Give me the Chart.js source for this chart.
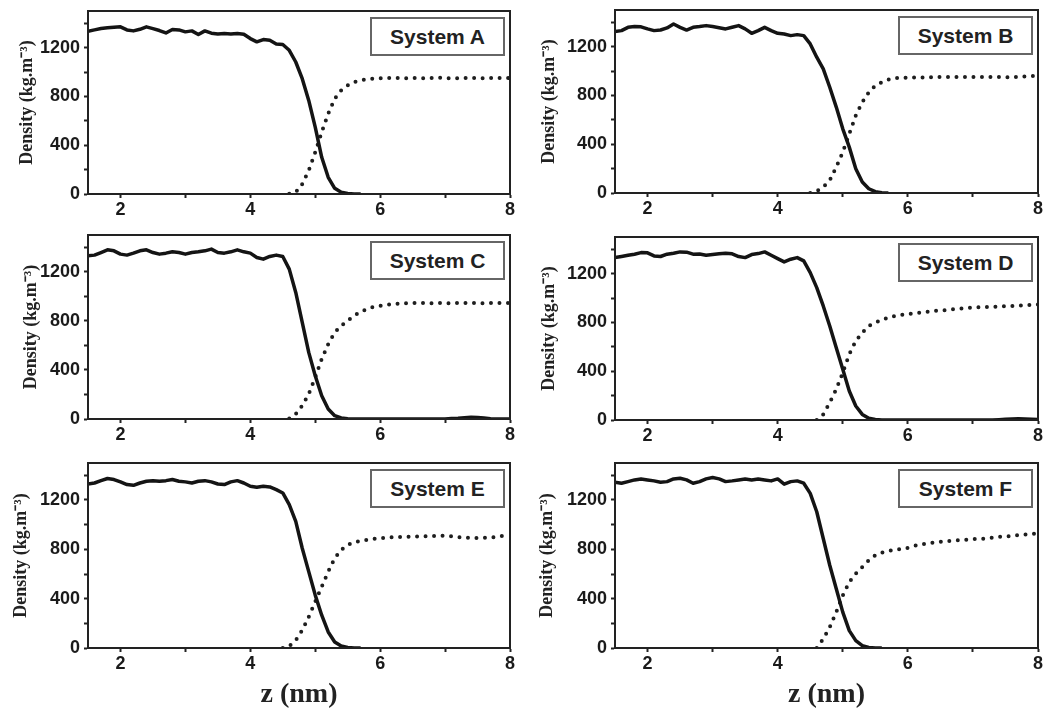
<!DOCTYPE html>
<html><head><meta charset="utf-8">
<script src="https://cdn.jsdelivr.net/npm/chart.js@4.4.0/dist/chart.umd.min.js"></script>
<style>
html,body{margin:0;padding:0;background:#fff;width:1045px;height:715px;overflow:hidden;position:relative}
canvas{position:absolute}
.box{position:absolute;box-sizing:border-box;border:2px solid #666;background:#fff;font:bold 21px "Liberation Sans",Arial,sans-serif;color:#222;display:flex;align-items:center;justify-content:center;white-space:nowrap}
</style></head><body>
<script>
// z positions (nm)
const zNm = [1.5,1.6,1.7,1.8,1.9,2.0,2.1,2.2,2.3,2.4,
             2.5,2.6,2.7,2.8,2.9,3.0,3.1,3.2,3.3,3.4,
             3.5,3.6,3.7,3.8,3.9,4.0,4.1,4.2,4.3,4.4,
             4.5,4.6,4.7,4.8,4.9,5.0,5.1,5.2,5.3,5.4,
             5.5,5.6,5.7,5.8,5.9,6.0,6.1,6.2,6.3,6.4,
             6.5,6.6,6.7,6.8,6.9,7.0,7.1,7.2,7.3,7.4,
             7.5,7.6,7.7,7.8,7.9,8.0];
const N = null;
// System A
const solidA = [1334,1345,1356,1362,1366,1370,1345,1337,1350,1370,
                1356,1340,1320,1348,1345,1329,1337,1307,1337,1318,
                1312,1315,1312,1316,1310,1274,1247,1266,1260,1230,
                1225,1178,1082,945,767,548,301,137,47,14,
                5,1,0,N,N,N,N,N,N,N,
                N,N,N,N,N,N,N,N,N,N,
                N,N,N,N,N,N];
const dottedA = [N,N,N,N,N,N,N,N,N,N,
                 N,N,N,N,N,N,N,N,N,N,
                 N,N,N,N,N,N,N,N,N,N,
                 N,2,14,82,192,342,507,658,781,850,
                 890,918,932,940,945,948,951,953,950,948,
                 952,950,949,951,953,950,948,950,952,951,
                 949,950,952,950,951,950];
// System B
const solidB = [1323,1331,1358,1364,1362,1345,1331,1336,1353,1385,
                1358,1336,1358,1364,1372,1364,1355,1345,1358,1372,
                1345,1309,1331,1358,1331,1309,1303,1290,1298,1290,
                1222,1113,1017,867,704,526,376,199,90,35,
                11,3,0,N,N,N,N,N,N,N,
                N,N,N,N,N,N,N,N,N,N,
                N,N,N,N,N,N];
const dottedB = [N,N,N,N,N,N,N,N,N,N,
                 N,N,N,N,N,N,N,N,N,N,
                 N,N,N,N,N,N,N,N,N,N,
                 0,16,49,104,213,335,485,635,744,826,
                 881,908,930,941,944,944,947,945,950,948,
                 952,950,953,949,951,952,950,953,951,950,
                 948,952,950,955,958,960];
// System C
const solidC = [1330,1336,1357,1379,1371,1344,1336,1352,1371,1379,
                1357,1344,1352,1363,1357,1344,1357,1363,1371,1385,
                1357,1352,1363,1379,1363,1352,1317,1303,1325,1336,
                1325,1222,1032,787,543,353,190,81,27,8,
                3,0,0,0,0,0,0,0,0,0,
                0,0,0,0,0,0,4,6,10,14,
                12,8,3,0,0,0];
const dottedC = [N,N,N,N,N,N,N,N,N,N,
                 N,N,N,N,N,N,N,N,N,N,
                 N,N,N,N,N,N,N,N,N,N,
                 N,5,41,109,204,339,489,611,706,760,
                 801,842,874,896,915,923,930,937,940,943,
                 945,948,945,944,946,945,944,946,945,947,
                 945,944,946,945,946,945];
// System D
const solidD = [1331,1340,1350,1359,1372,1370,1345,1340,1359,1367,
                1378,1376,1359,1360,1350,1356,1362,1367,1362,1340,
                1331,1356,1364,1378,1350,1323,1296,1318,1331,1304,
                1208,1085,935,771,593,416,238,115,46,14,
                5,0,0,0,0,0,0,0,0,0,
                0,0,0,0,0,0,0,0,0,3,
                6,8,10,8,6,5];
const dottedD = [N,N,N,N,N,N,N,N,N,N,
                 N,N,N,N,N,N,N,N,N,N,
                 N,N,N,N,N,N,N,N,N,N,
                 N,0,46,142,252,388,539,648,716,771,
                 798,820,839,853,861,869,875,880,887,894,
                 898,902,908,913,917,921,924,926,928,930,
                 933,935,938,940,943,946];
// System E
const solidE = [1330,1338,1357,1374,1366,1347,1325,1319,1338,1352,
                1357,1352,1357,1366,1352,1347,1338,1352,1357,1347,
                1330,1325,1347,1357,1338,1311,1303,1311,1306,1284,
                1257,1162,1026,809,619,429,266,130,49,16,
                5,0,0,N,N,N,N,N,N,N,
                N,N,N,N,N,N,N,N,N,N,
                N,N,N,N,N,N];
const dottedE = [N,N,N,N,N,N,N,N,N,N,
                 N,N,N,N,N,N,N,N,N,N,
                 N,N,N,N,N,N,N,N,N,N,
                 0,16,62,144,252,375,497,619,728,796,
                 836,858,869,877,885,891,895,899,900,902,
                 904,905,907,908,909,910,905,900,895,892,
                 891,893,896,900,910,923];
// System F
const solidF = [1344,1336,1349,1363,1371,1363,1355,1344,1349,1371,
                1376,1363,1336,1349,1371,1382,1371,1349,1355,1363,
                1371,1363,1371,1363,1355,1371,1328,1349,1355,1336,
                1254,1105,888,671,481,291,141,60,19,5,
                0,0,N,N,N,N,N,N,N,N,
                N,N,N,N,N,N,N,N,N,N,
                N,N,N,N,N,N];
const dottedF = [N,N,N,N,N,N,N,N,N,N,
                 N,N,N,N,N,N,N,N,N,N,
                 N,N,N,N,N,N,N,N,N,N,
                 N,0,73,168,291,426,535,603,657,711,
                 752,774,785,798,801,812,828,839,847,855,
                 861,866,870,874,878,882,885,888,895,901,
                 905,909,915,920,925,929];

const systemNames = ['System A','System B','System C','System D','System E','System F'];
const xTickLabels = [2,4,6,8];
const yTickLabels = [0,400,800,1200];
const yTitle = 'Density (kg.m\u207B\u00B3)';
const xTitle = 'z (nm)';

// layout (plot-area rectangles in page pixels)
const layoutPanels = [
  {L:88,  T:11,  R:510,  B:194, tp:9,  xt:false},
  {L:615, T:10,  R:1038, B:193, tp:4,  xt:false},
  {L:88,  T:235, R:510,  B:419, tp:13, xt:false},
  {L:615, T:237, R:1038, B:420, tp:4,  xt:false},
  {L:88,  T:463, R:510,  B:648, tp:3,  xt:true},
  {L:615, T:463, R:1038, B:648, tp:2,  xt:true}
];
const seriesSolid = [solidA, solidB, solidC, solidD, solidE, solidF];
const seriesDotted = [dottedA, dottedB, dottedC, dottedD, dottedE, dottedF];

const framePlugin = {
  id: 'frame',
  afterDraw(c) {
    const {ctx, chartArea: a} = c;
    ctx.save();
    ctx.strokeStyle = '#222';
    ctx.lineWidth = 2;
    ctx.strokeRect(a.left, a.top, a.right - a.left, a.bottom - a.top);
    ctx.restore();
  }
};

const tickFont = {family: '"Liberation Sans", Arial, sans-serif', weight: 'bold', size: 18};
const serif = '"Liberation Serif", "Times New Roman", serif';

function makePanel(i) {
  const p = layoutPanels[i];
  const Wy = 80, padTop = 16, padRight = 7;
  const Hx = p.xt ? (715 - p.B) : 28;
  const w = (p.R - p.L) + Wy + padRight;
  const h = (p.B - p.T) + padTop + Hx;
  const cv = document.createElement('canvas');
  cv.width = w; cv.height = h;
  cv.style.left = (p.L - Wy) + 'px';
  cv.style.top = (p.T - padTop) + 'px';
  cv.style.width = w + 'px';
  cv.style.height = h + 'px';
  document.body.appendChild(cv);

  const solid = seriesSolid[i], dotted = seriesDotted[i];
  new Chart(cv.getContext('2d'), {
    type: 'line',
    data: {
      datasets: [
        {label: 'solid', data: zNm.map((z, k) => ({x: z, y: solid[k]})),
         borderColor: '#141414', borderWidth: 3.5, pointRadius: 0, tension: 0,
         borderJoinStyle: 'round', spanGaps: false},
        {label: 'dotted', data: zNm.map((z, k) => ({x: z, y: dotted[k]})),
         borderColor: '#1e1e1e', borderWidth: 4, borderDash: [0, 8.5], borderCapStyle: 'round',
         pointRadius: 0, tension: 0, spanGaps: false}
      ]
    },
    options: {
      responsive: false, animation: false, devicePixelRatio: 1,
      layout: {padding: {top: padTop, right: padRight, left: 0, bottom: 0}},
      plugins: {legend: {display: false}, tooltip: {enabled: false}},
      scales: {
        x: {
          type: 'linear', min: 1.5, max: 8,
          ticks: {stepSize: 1, includeBounds: false, autoSkip: false, maxRotation: 0, padding: 1,
                  color: '#1a1a1a', font: tickFont,
                  callback: v => xTickLabels.includes(v) ? String(v) : ''},
          grid: {drawOnChartArea: false, drawTicks: true, tickLength: 4, tickWidth: 2, tickColor: '#222'},
          border: {display: true, width: 2, color: '#222'},
          title: {display: p.xt, text: xTitle, color: '#222',
                  font: {family: serif, weight: 'bold', size: 28}, padding: {top: 0, bottom: 3}},
          afterFit: s => { s.height = Hx; }
        },
        y: {
          min: 0, max: 1500,
          ticks: {stepSize: 200, includeBounds: false, padding: 4, color: '#1a1a1a', font: tickFont,
                  callback: v => yTickLabels.includes(v) ? String(v) : ''},
          grid: {drawOnChartArea: false, drawTicks: true, tickLength: 4, tickWidth: 2, tickColor: '#222'},
          border: {display: true, width: 2, color: '#222'},
          title: {display: true, text: yTitle, color: '#222',
                  font: {family: serif, weight: 'bold', size: 18}, padding: {top: p.tp, bottom: 0}},
          afterFit: s => { s.width = Wy; }
        }
      }
    },
    plugins: [framePlugin]
  });

  const box = document.createElement('div');
  box.className = 'box';
  box.textContent = systemNames[i];
  box.style.left = (p.R - 5 - 135) + 'px';
  box.style.top = (p.T + 6) + 'px';
  box.style.width = '135px';
  box.style.height = '39px';
  document.body.appendChild(box);
}

for (let i = 0; i < 6; i++) makePanel(i);
</script>
</body></html>
